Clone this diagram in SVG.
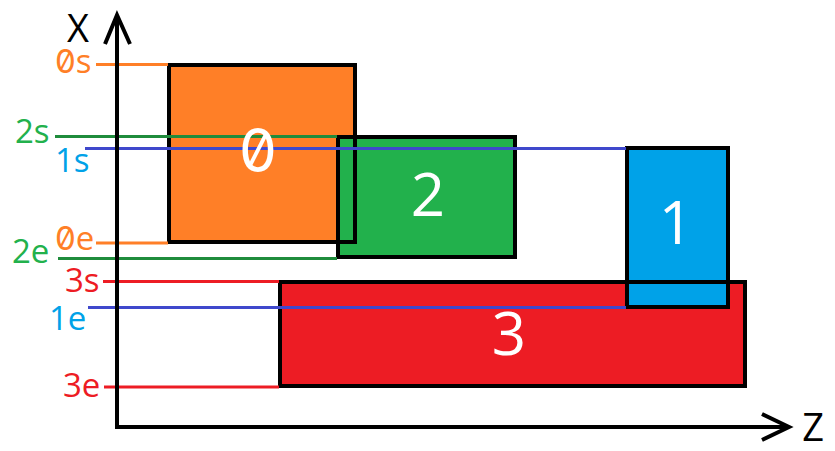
<svg xmlns="http://www.w3.org/2000/svg" width="835" height="451" viewBox="0 0 835 451">
<style>
.box{stroke:none}
.outline{fill:none;stroke:#000;stroke-width:4}
.lbl{font-family:"Open Sans","Noto Sans",sans-serif;font-size:33px}
.big{font-family:"Open Sans","Noto Sans",sans-serif;font-size:60px;fill:#fff;text-anchor:middle}
.zero{font-family:Inter,"Open Sans",sans-serif;font-feature-settings:"zero" 1}
.axis{stroke:#000;stroke-width:4;fill:none;stroke-linecap:butt}
.ln{stroke-width:3;fill:none}
.o{fill:#FF7F27}.g{fill:#22B14C}.b{fill:#00A2E8}.r{fill:#ED1C24}
</style>
<rect width="835" height="451" fill="#fff"/>
<g id="fills">
<rect id="fill0" class="box o" x="169" y="65" width="186" height="177"/>
<rect id="fill2" class="box g" x="338" y="137" width="177" height="120"/>
<rect id="fill3" class="box r" x="280" y="282" width="465" height="104"/>
<rect id="fill1" class="box b" x="627" y="148" width="101" height="159"/>
</g>
<g id="outlines">
<rect class="outline" x="169" y="65" width="186" height="177"/>
<rect class="outline" x="338" y="137" width="177" height="120"/>
<rect class="outline" x="280" y="282" width="465" height="104"/>
<rect class="outline" x="627" y="148" width="101" height="159"/>
</g>
<g id="connectors">
<line class="ln" stroke="#FF7F27" x1="96" y1="64.5" x2="168" y2="64.5"/>
<line class="ln" stroke="#FF7F27" x1="96" y1="243" x2="168" y2="243"/>
<line class="ln" stroke="#1F8C3C" x1="55" y1="136.5" x2="337" y2="136.5"/>
<line class="ln" stroke="#1F8C3C" x1="58" y1="258.5" x2="337" y2="258.5"/>
<line class="ln" stroke="#3F48CC" x1="85" y1="148.5" x2="626" y2="148.5"/>
<line class="ln" stroke="#3F48CC" x1="88" y1="307.5" x2="626" y2="307.5"/>
<line class="ln" stroke="#ED1C24" x1="103" y1="281.5" x2="279" y2="281.5"/>
<line class="ln" stroke="#ED1C24" x1="104" y1="387" x2="279" y2="387"/>
</g>
<g id="axes">
<polyline class="axis" points="117,16 117,427 789,427"/>
<polyline class="axis" points="105,44 117,15 130,44"/>
<polyline class="axis" points="762,414 789,427 762,440"/>
<text class="lbl" x="78" y="42" text-anchor="middle" style="font-size:38px">X</text>
<text class="lbl" x="813" y="441" text-anchor="middle" style="font-size:38px">Z</text>
</g>
<g id="node0"><text class="big zero" x="258" y="172">0</text></g>
<g id="node2"><text class="big" x="428" y="216">2</text></g>
<g id="node1"><text class="big" x="676" y="244">1</text></g>
<g id="node3"><text class="big" x="509" y="355">3</text></g>
<g id="labels">
<text class="lbl o" x="55" y="73"><tspan class="zero">0</tspan>s</text>
<text class="lbl o" x="55" y="250"><tspan class="zero">0</tspan>e</text>
<text class="lbl g" x="15" y="143">2s</text>
<text class="lbl g" x="12" y="263">2e</text>
<text class="lbl b" x="55" y="172">1s</text>
<text class="lbl b" x="49" y="330">1e</text>
<text class="lbl r" x="65" y="292">3s</text>
<text class="lbl r" x="63" y="397">3e</text>
</g>
</svg>
